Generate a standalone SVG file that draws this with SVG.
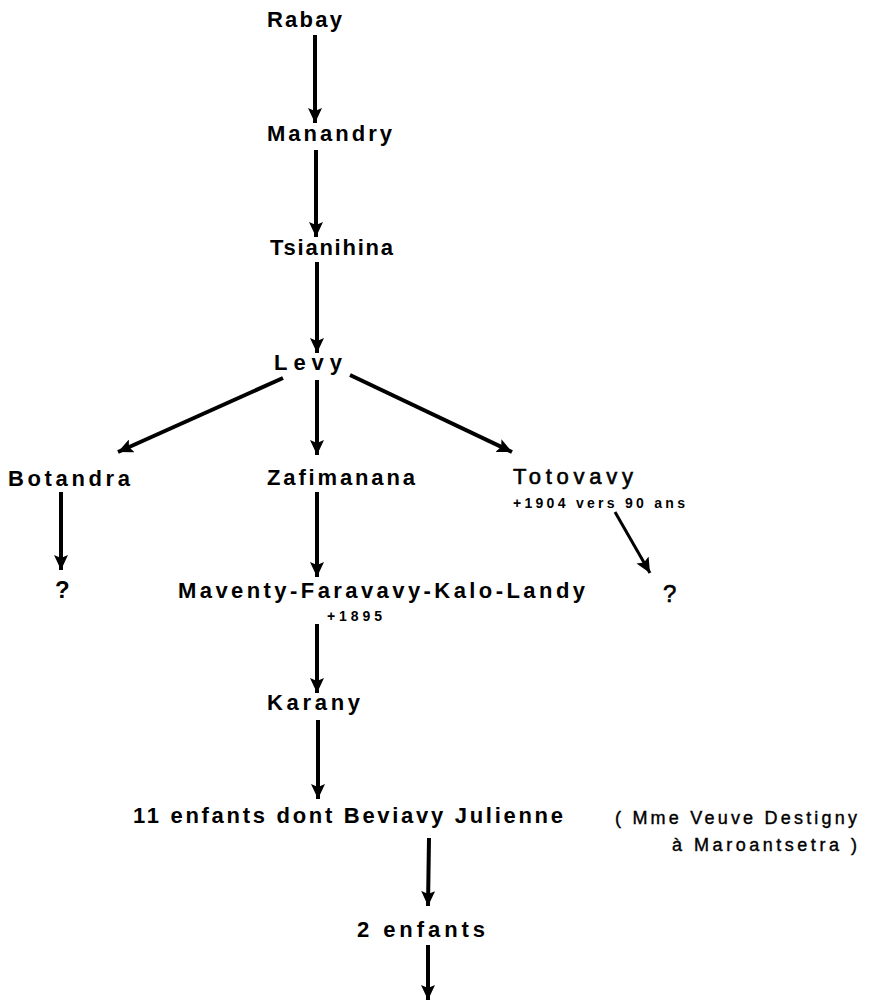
<svg xmlns="http://www.w3.org/2000/svg" width="870" height="1000" viewBox="0 0 870 1000">
<style>
.n{font-family:"Liberation Sans",Arial,sans-serif;font-weight:bold;font-size:22px;fill:#000}
.s{font-family:"Liberation Sans",Arial,sans-serif;font-weight:bold;font-size:14px;fill:#000}
.r{font-family:"Liberation Sans",Arial,sans-serif;font-size:18px;fill:#000;stroke:#000;stroke-width:0.4}
.c{stroke:#000;stroke-width:4;fill:none;marker-end:url(#ah)}
</style>
<defs>
<marker id="ah" markerUnits="userSpaceOnUse" markerWidth="16" markerHeight="14" refX="15" refY="7" orient="auto">
<path d="M0,0 L15,7 L0,14 L3,7 Z" fill="#000"/>
</marker>
</defs>
<rect width="870" height="1000" fill="#fff"/>
<g id="connectors">
<line class="c" x1="315" y1="35" x2="315" y2="123"/>
<line class="c" x1="316" y1="150" x2="316" y2="237"/>
<line class="c" x1="317" y1="262" x2="317" y2="353"/>
<line class="c" x1="283" y1="378" x2="118" y2="452"/>
<line class="c" x1="317" y1="380" x2="317" y2="455"/>
<line class="c" x1="350" y1="375" x2="512" y2="452"/>
<line class="c" x1="61" y1="492" x2="61" y2="570"/>
<line class="c" x1="317" y1="492" x2="317" y2="577"/>
<line class="c" x1="615" y1="512" x2="650" y2="573" style="stroke-width:3"/>
<line class="c" x1="317" y1="624" x2="317" y2="693"/>
<line class="c" x1="318" y1="720" x2="318" y2="799"/>
<line class="c" x1="429" y1="838" x2="428" y2="906"/>
<line class="c" x1="428" y1="945" x2="428" y2="1000"/>
</g>
<g id="rabay"><text class="n" x="267" y="27" textLength="75" lengthAdjust="spacing">Rabay</text></g>
<g id="manandry"><text class="n" x="267" y="141" textLength="125" lengthAdjust="spacing">Manandry</text></g>
<g id="tsianihina"><text class="n" x="270" y="255" textLength="123" lengthAdjust="spacing">Tsianihina</text></g>
<g id="levy"><text class="n" x="274" y="370" textLength="68" lengthAdjust="spacing">Levy</text></g>
<g id="botandra"><text class="n" x="8" y="486" textLength="122" lengthAdjust="spacing">Botandra</text></g>
<g id="zafimanana"><text class="n" x="267" y="485" textLength="148" lengthAdjust="spacing">Zafimanana</text></g>
<g id="totovavy"><text class="n" x="513" y="484" textLength="120" lengthAdjust="spacing" style="font-weight:normal;stroke:#000;stroke-width:0.6">Totovavy</text>
<text class="s" x="513" y="508" textLength="172" lengthAdjust="spacing">+1904 vers 90 ans</text></g>
<g id="q1"><text class="n" x="55" y="598" style="font-size:24px">?</text></g>
<g id="maventy"><text class="n" x="178" y="598" textLength="407" lengthAdjust="spacing">Maventy-Faravavy-Kalo-Landy</text>
<text class="s" x="327" y="621" textLength="55" lengthAdjust="spacing">+1895</text></g>
<g id="q2"><text class="n" x="663" y="602" style="font-size:24px;font-weight:normal;stroke:#000;stroke-width:0.6">?</text></g>
<g id="karany"><text class="n" x="267" y="710" textLength="93" lengthAdjust="spacing">Karany</text></g>
<g id="enfants11"><text class="n" x="133" y="823" textLength="430" lengthAdjust="spacing">11 enfants dont Beviavy Julienne</text></g>
<g id="destigny"><text class="r" x="615" y="824" textLength="242" lengthAdjust="spacing">( Mme Veuve  Destigny</text>
<text class="r" x="672" y="851" textLength="185" lengthAdjust="spacing">à  Maroantsetra )</text></g>
<g id="enfants2"><text class="n" x="357" y="937" textLength="128" lengthAdjust="spacing">2 enfants</text></g>
</svg>
